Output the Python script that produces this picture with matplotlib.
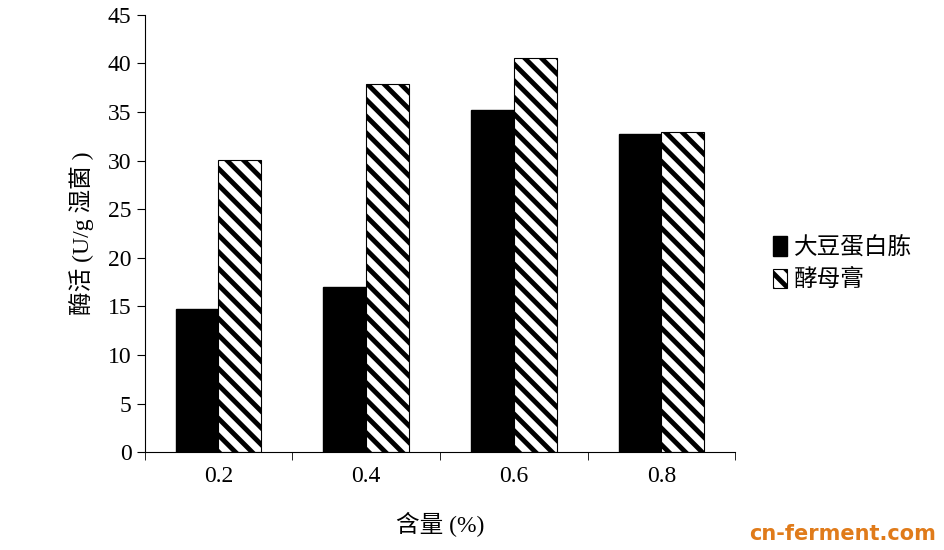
import matplotlib
matplotlib.use("Agg")
import matplotlib.pyplot as plt
import numpy as np

plt.rcParams["font.family"] = ["Liberation Serif", "Noto Sans CJK SC"]
plt.rcParams["hatch.linewidth"] = 3.5

categories = ["0.2", "0.4", "0.6", "0.8"]
soy_peptone = [14.7, 17.0, 35.2, 32.7]
yeast_extract = [30.1, 37.9, 40.6, 32.9]
series_names = ["大豆蛋白胨", "酵母膏"]

fig = plt.figure(figsize=(9.45, 5.5), dpi=100)
ax = fig.add_axes([0.153, 0.178, 0.625, 0.795])

x = np.arange(len(categories))
w = 0.29
ax.bar(x - w / 2, soy_peptone, w, color="black", edgecolor="black", label=series_names[0])
ax.bar(x + w / 2, yeast_extract, w, color="white", edgecolor="black", hatch="\\\\",
       linewidth=0.8, label=series_names[1])

ax.set_xlim(-0.5, len(categories) - 0.5)
ax.set_ylim(0, 45)
ax.set_yticks(range(0, 46, 5))
ax.set_xticks(x)
ax.set_xticklabels(categories, fontsize=17)
ax.set_xticks(np.arange(-0.5, len(categories)), minor=True)
ax.tick_params(axis="x", which="major", length=0, pad=10)
ax.tick_params(axis="x", which="minor", length=6, direction="out")
ax.tick_params(axis="y", labelsize=17, length=6, direction="out")
for s in ["top", "right"]:
    ax.spines[s].set_visible(False)

ax.set_xlabel("含量 (%)", fontsize=17, labelpad=18)
ax.set_ylabel("酶活 (U/g 湿菌 )", fontsize=17, labelpad=10)

fig.legend(loc="center left", bbox_to_anchor=(0.795, 0.52), frameon=False,
           fontsize=17, handlelength=0.6, handleheight=0.9, handletextpad=0.3,
           labelspacing=0.4)

fig.text(0.99, 0.01, "cn-ferment.com", ha="right", va="bottom", fontsize=15,
         color="#e07b1a", family="DejaVu Sans", fontweight="bold")

fig.savefig("out.png", dpi=100)
